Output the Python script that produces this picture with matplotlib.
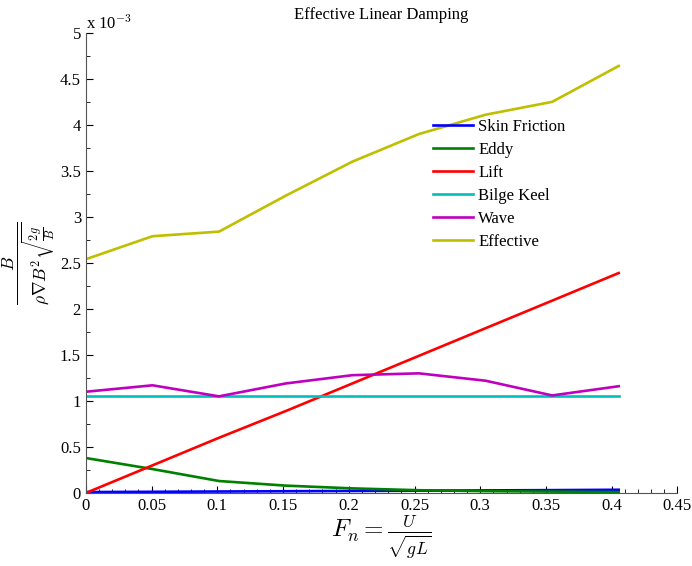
import matplotlib
matplotlib.use('Agg')
import matplotlib.pyplot as plt
from matplotlib.ticker import MultipleLocator, FuncFormatter

plt.rcParams['font.family'] = ['Liberation Serif', 'DejaVu Serif']
plt.rcParams['mathtext.fontset'] = 'cm'

# Froude number points
fn = [0, 0.0507, 0.1013, 0.152, 0.2027, 0.2533, 0.304, 0.3547, 0.4053]

# damping components (non-dimensional)
skin = [0.010e-3, 0.013e-3, 0.016e-3, 0.019e-3, 0.022e-3, 0.025e-3, 0.028e-3, 0.031e-3, 0.035e-3]
eddy = [0.38e-3, 0.26e-3, 0.13e-3, 0.08e-3, 0.05e-3, 0.03e-3, 0.02e-3, 0.015e-3, 0.01e-3]
lift = [0, 0.30e-3, 0.60e-3, 0.89e-3, 1.19e-3, 1.49e-3, 1.79e-3, 2.09e-3, 2.39e-3]
bilge = [1.05e-3] * 9
wave = [1.10e-3, 1.17e-3, 1.05e-3, 1.19e-3, 1.28e-3, 1.30e-3, 1.22e-3, 1.06e-3, 1.16e-3]
effective = [2.54e-3, 2.79e-3, 2.84e-3, 3.23e-3, 3.60e-3, 3.90e-3, 4.11e-3, 4.25e-3, 4.64e-3]

fig = plt.figure(figsize=(6.92, 5.66), dpi=100)
ax = fig.add_axes([0.124, 0.129, 0.855, 0.813])

ax.plot(fn, skin, color='#0000ff', lw=1.9, label='Skin Friction')
ax.plot(fn, eddy, color='#008000', lw=1.9, label='Eddy')
ax.plot(fn, lift, color='#ff0000', lw=1.9, label='Lift')
ax.plot(fn, bilge, color='#00bfbf', lw=1.9, label='Bilge Keel')
ax.plot(fn, wave, color='#bf00bf', lw=1.9, label='Wave')
ax.plot(fn, effective, color='#bfbf00', lw=1.9, label='Effective')

ax.set_xlim(0, 0.45)
ax.set_ylim(0, 5e-3)
ax.xaxis.set_major_locator(MultipleLocator(0.05))
ax.xaxis.set_minor_locator(MultipleLocator(0.01))
ax.yaxis.set_major_locator(MultipleLocator(0.5e-3))
ax.yaxis.set_minor_locator(MultipleLocator(0.25e-3))
ax.xaxis.set_major_formatter(FuncFormatter(lambda v, p: '%g' % round(v, 3)))
ax.yaxis.set_major_formatter(FuncFormatter(lambda v, p: '%g' % round(v * 1e3, 3)))

for s in ['top', 'right']:
    ax.spines[s].set_visible(False)
for s in ['left', 'bottom']:
    ax.spines[s].set_color('#555555')
ax.tick_params(which='both', direction='in', labelsize=12, colors='black')
ax.tick_params(which='major', length=5)
ax.tick_params(which='minor', length=3)

ax.text(0.0, 1.0, r'x 10$^{-3}$', transform=ax.transAxes, fontsize=12, va='bottom', ha='left')

ax.set_title('Effective Linear Damping', fontsize=12, pad=10)
ax.set_xlabel(r'$F_n=\frac{U}{\sqrt{gL}}$', fontsize=18, labelpad=0)
ax.set_ylabel(r'$\frac{B}{\rho\nabla B^2\sqrt{\frac{2g}{B}}}$', fontsize=18, labelpad=2)

ax.legend(loc='upper left', bbox_to_anchor=(0.562, 0.846), frameon=False, fontsize=12,
          handlelength=2.4, labelspacing=0.42, handletextpad=0.3)

fig.savefig('out.png', dpi=100)
